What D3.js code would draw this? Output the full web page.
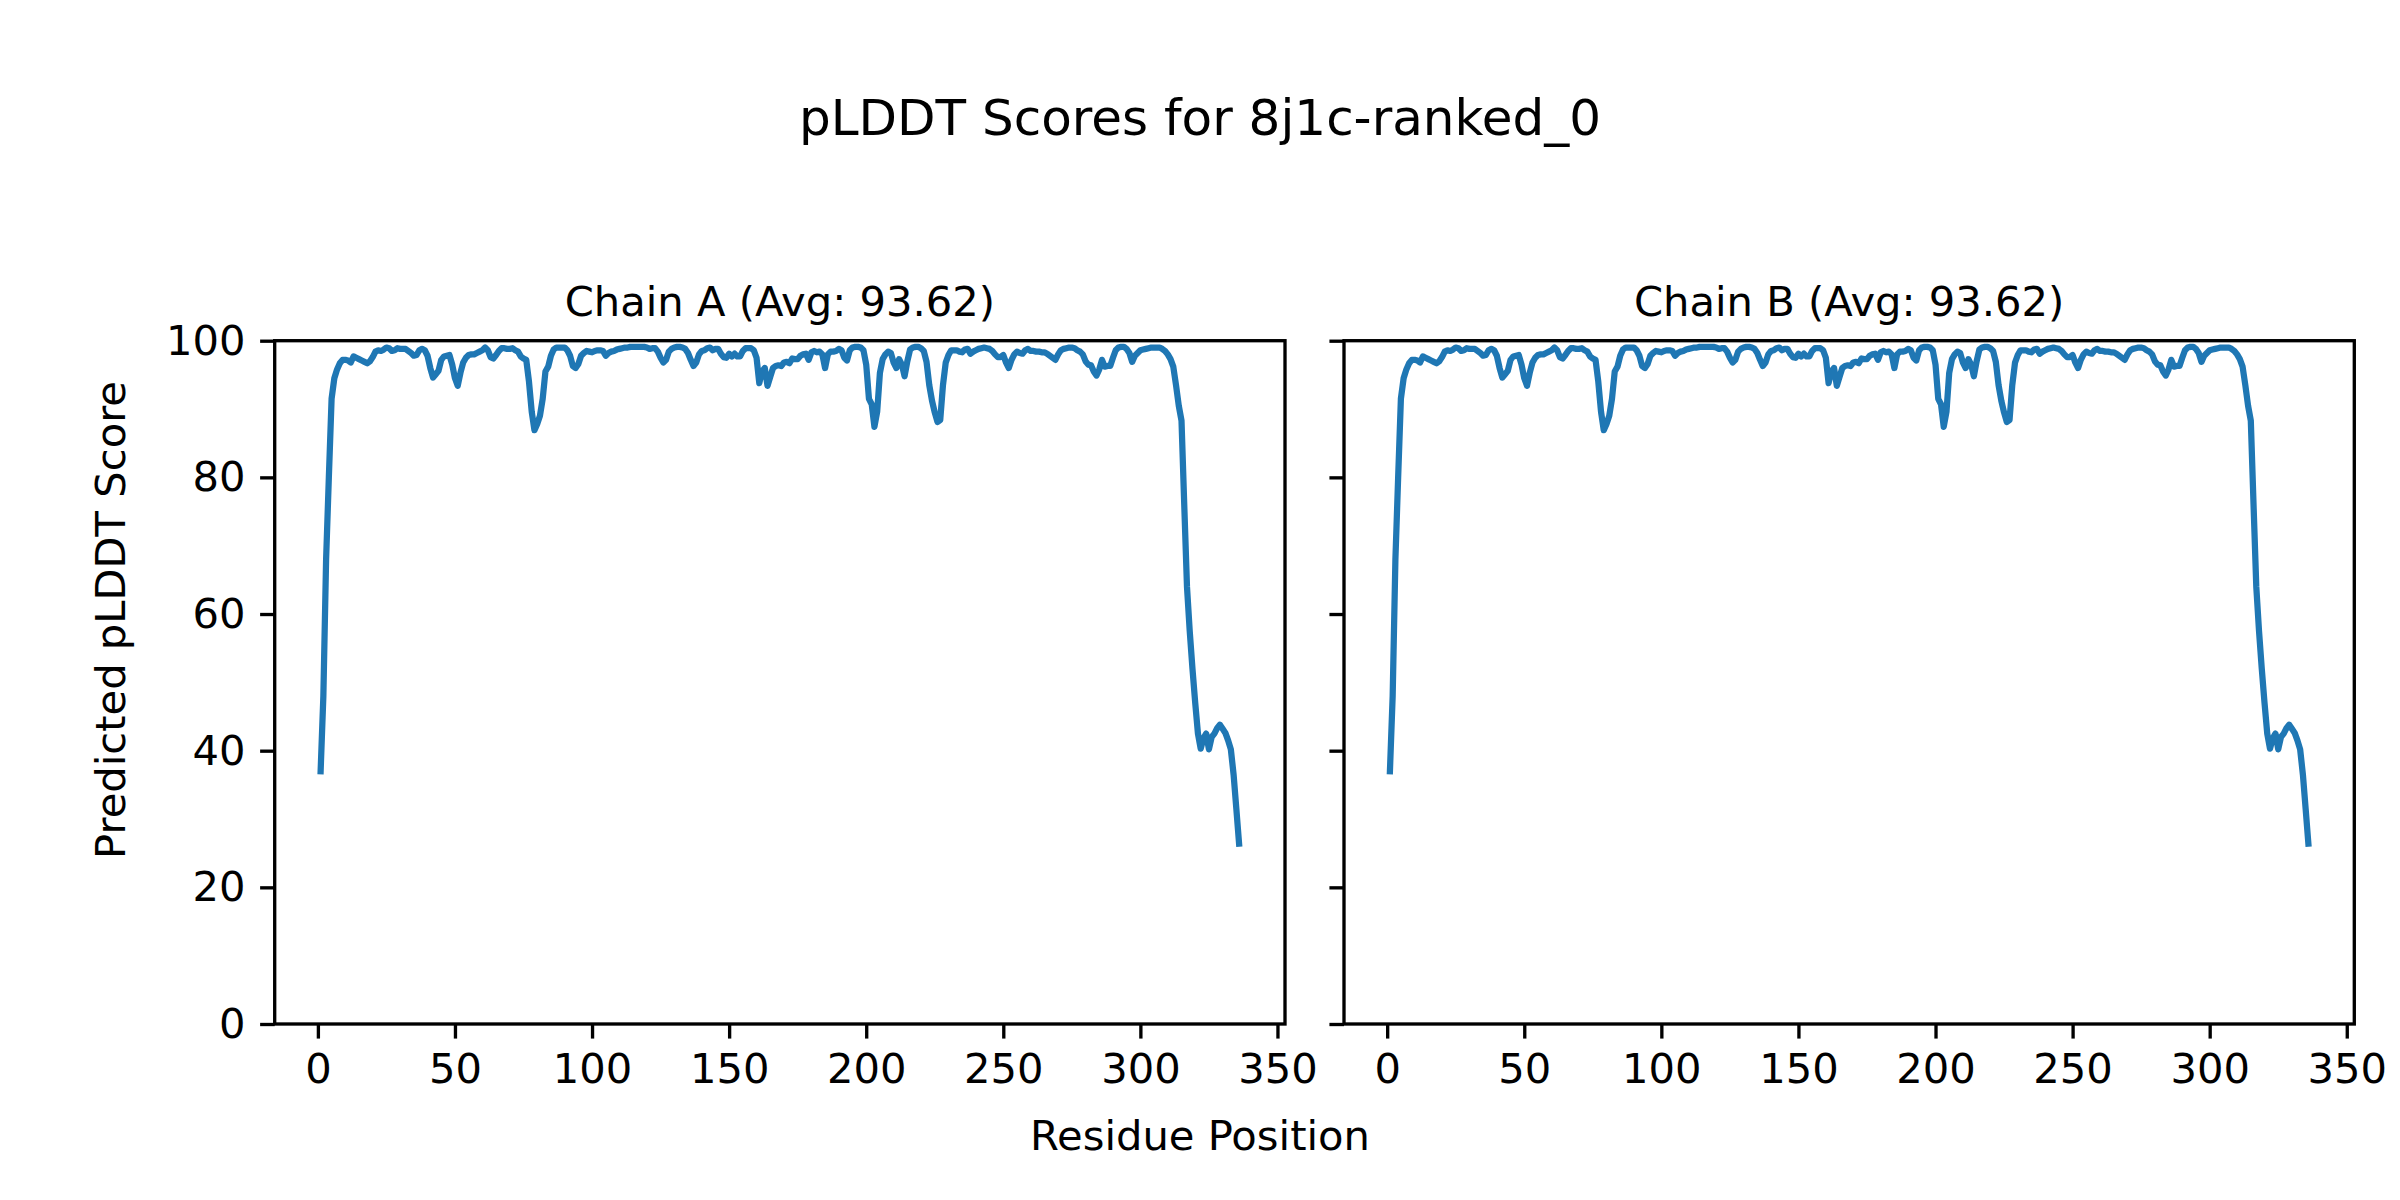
<!DOCTYPE html>
<html>
<head>
<meta charset="utf-8">
<script src="https://cdn.jsdelivr.net/npm/d3@7"></script>
<style>
  body { margin: 0; background: #fff; }
  svg { display: block; font-family: "DejaVu Sans", sans-serif; }
</style>
</head>
<body>
<div id="chart"></div>
<script>
// pLDDT per residue (residue 1..336)
const scores = [
  37, 48, 68, 80, 91.5, 94.5, 95.8, 96.7, 97.2, 97.2,
  97.1, 96.8, 97.7, 97.5, 97.3, 97.1, 96.9, 96.7, 97.0, 97.6,
  98.4, 98.6, 98.5, 98.7, 99.0, 98.9, 98.5, 98.6, 98.9, 98.8,
  98.8, 98.8, 98.5, 98.2, 97.8, 97.9, 98.6, 98.8, 98.6, 97.8,
  96.0, 94.6, 95.1, 95.6, 97.2, 97.7, 97.8, 97.9, 96.5, 94.5,
  93.4, 95.3, 96.8, 97.5, 97.9, 98.0, 98.0, 98.2, 98.4, 98.6,
  99.0, 98.6, 97.6, 97.4, 97.9, 98.5, 98.9, 98.9, 98.8, 98.8,
  98.9, 98.6, 98.4, 97.7, 97.4, 97.2, 94.0, 89.6, 86.9, 87.8,
  89.0, 91.5, 95.5, 96.2, 97.8, 98.7, 99.0, 99.0, 99.0, 99.0,
  98.6, 97.8, 96.3, 96.0, 96.6, 97.8, 98.2, 98.5, 98.4, 98.3,
  98.5, 98.6, 98.6, 98.5, 97.8, 98.2, 98.4, 98.5, 98.7, 98.8,
  98.9, 99.0, 99.0, 99.1, 99.1, 99.1, 99.1, 99.1, 99.1, 99.0,
  98.8, 98.9, 98.9, 98.4, 97.5, 96.8, 97.2, 98.4, 98.8, 99.0,
  99.1, 99.1, 99.0, 98.8, 98.2, 97.2, 96.3, 96.8, 98.0, 98.5,
  98.6, 98.9, 99.0, 98.6, 98.8, 98.8, 98.1, 97.6, 97.5, 98.1,
  97.7, 98.1, 97.7, 97.7, 98.5, 98.9, 98.9, 98.9, 98.6, 97.5,
  93.8, 95.5, 96.0, 93.4, 94.7, 96.0, 96.3, 96.4, 96.3, 96.8,
  96.9, 96.7, 97.4, 97.3, 97.3, 97.8, 98.0, 98.1, 97.2, 98.3,
  98.5, 98.3, 98.4, 98.0, 96.0, 98.0, 98.4, 98.4, 98.5, 98.8,
  98.6, 97.5, 97.1, 98.6, 99.0, 99.1, 99.1, 99.0, 98.6, 96.5,
  91.5, 90.7, 87.4, 89.6, 95.3, 97.3, 98.0, 98.4, 98.2, 96.8,
  96.0, 97.3, 96.5, 94.8, 97.0, 98.7, 99.0, 99.1, 99.1, 98.9,
  98.5, 96.9, 93.5, 91.2, 89.5, 88.1, 88.4, 93.5, 96.8, 97.9,
  98.6, 98.6, 98.6, 98.4, 98.3, 98.7, 98.8, 98.1, 98.4, 98.6,
  98.8, 98.9, 99.0, 98.9, 98.8, 98.5, 98.0, 97.6, 97.6, 97.9,
  96.8, 96.0, 97.2, 98.0, 98.4, 98.2, 98.1, 98.6, 98.8, 98.5,
  98.5, 98.4, 98.4, 98.3, 98.3, 98.1, 97.8, 97.5, 97.2, 98.0,
  98.6, 98.8, 98.9, 99.0, 99.0, 98.9, 98.6, 98.4, 98.0, 97.0,
  96.5, 96.4, 95.5, 94.9, 95.8, 97.2, 96.2, 96.3, 96.3, 97.5,
  98.6, 99.0, 99.1, 99.1, 98.8, 98.2, 96.9, 97.8, 98.2, 98.6,
  98.7, 98.8, 98.9, 99.0, 99.0, 99.0, 99.0, 98.8, 98.5, 98.0,
  97.3, 96.2, 93.5, 90.5, 88.3, 76.0, 64.0, 57.5, 52.0, 47.0,
  42.5, 40.3, 41.8, 42.5, 40.2, 42.0, 42.5, 43.3, 43.8, 43.2,
  42.6, 41.5, 40.2, 36.5, 31.5, 26.4
];

const chains = ["A", "B"];
const chainAvg = [93.62, 93.62];
const chainScores = [scores, scores];  // both chains have the same profile
const xTicks = [0, 50, 100, 150, 200, 250, 300, 350];
const yTicks = [0, 20, 40, 60, 80, 100];

const W = 2400, H = 1200;
const pt = 300 / 72;   // figure was saved at 300 dpi
const fontSize = 10 * pt;
const panelLeft = [274.7, 1344];
const panelWidth = 1010.3;
const plotTop = 340.7, plotBottom = 1024;

const svg = d3.select("#chart").append("svg")
    .attr("width", W)
    .attr("height", H);

svg.append("rect").attr("width", W).attr("height", H).attr("fill", "#fff");

// Figure title
svg.append("text")
    .attr("x", W / 2)
    .attr("y", 135)
    .attr("text-anchor", "middle")
    .style("font-size", (12 * pt) + "px")
    .text("pLDDT Scores for 8j1c-ranked_0");

// matplotlib-style 5% margins on x
const n = scores.length;
const pad = (n - 1) * 0.05;

const y = d3.scaleLinear().domain([0, 100]).range([plotBottom, plotTop]);

chains.forEach((chain, k) => {
    const data = chainScores[k].map((v, i) => ({ pos: i + 1, v: v }));
    const x = d3.scaleLinear()
        .domain([1 - pad, n + pad])
        .range([panelLeft[k], panelLeft[k] + panelWidth]);

    const g = svg.append("g");

    // line first, spines drawn over it
    g.append("path")
        .datum(data)
        .attr("fill", "none")
        .attr("stroke", "#1f77b4")
        .attr("stroke-width", 1.5 * pt)
        .attr("stroke-linejoin", "round")
        .attr("stroke-linecap", "square")
        .attr("d", d3.line().x(d => x(d.pos)).y(d => y(d.v)));

    const xAxis = g.append("g")
        .attr("transform", `translate(0,${plotBottom})`)
        .call(d3.axisBottom(x).tickValues(xTicks).tickSize(3.5 * pt).tickPadding(3.5 * pt).tickSizeOuter(0));

    const yAxis = g.append("g")
        .attr("transform", `translate(${panelLeft[k]},0)`)
        .call(d3.axisLeft(y).tickValues(yTicks).tickSize(3.5 * pt).tickPadding(3.5 * pt).tickSizeOuter(0)
            .tickFormat(k === 0 ? d3.format("d") : () => ""));

    [xAxis, yAxis].forEach(a => {
        a.select(".domain").remove();
        a.selectAll(".tick line").attr("stroke", "#000").attr("stroke-width", 0.8 * pt);
        a.selectAll(".tick text")
            .attr("fill", "#000")
            .style("font-size", fontSize + "px")
            .style("font-family", "DejaVu Sans");
    });

    // axes frame
    g.append("rect")
        .attr("x", panelLeft[k])
        .attr("y", plotTop)
        .attr("width", panelWidth)
        .attr("height", plotBottom - plotTop)
        .attr("fill", "none")
        .attr("stroke", "#000")
        .attr("stroke-width", 0.8 * pt);

    g.append("text")
        .attr("x", panelLeft[k] + panelWidth / 2)
        .attr("y", plotTop - 6 * pt)
        .attr("text-anchor", "middle")
        .style("font-size", fontSize + "px")
        .text(`Chain ${chain} (Avg: ${chainAvg[k].toFixed(2)})`);
});

// shared axis labels, centred on the figure
svg.append("text")
    .attr("x", W / 2)
    .attr("y", 1150)
    .attr("text-anchor", "middle")
    .style("font-size", fontSize + "px")
    .text("Residue Position");

svg.append("text")
    .attr("transform", `translate(125,${H / 2 + 20}) rotate(-90)`)
    .attr("text-anchor", "middle")
    .style("font-size", fontSize + "px")
    .text("Predicted pLDDT Score");
</script>
</body>
</html>
